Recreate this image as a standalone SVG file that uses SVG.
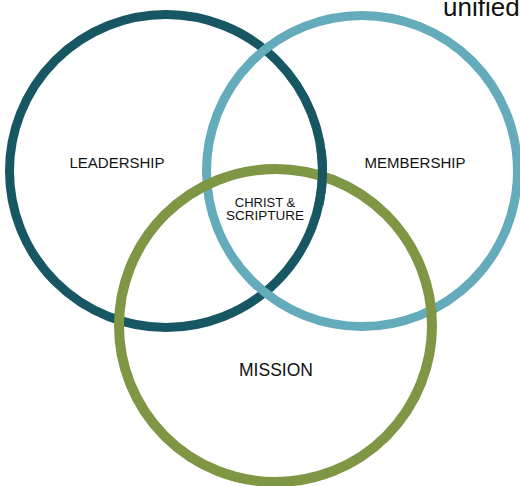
<svg xmlns="http://www.w3.org/2000/svg" width="520" height="486" viewBox="0 0 520 486">
<style>
.ring{fill:none}
.lead{stroke:#175663;stroke-width:9}
.memb{stroke:#64abbb;stroke-width:9}
.miss{stroke:#7f9645;stroke-width:10}
.lbl{font-family:"Liberation Sans",Arial,sans-serif;fill:#111;text-anchor:middle}
</style>
<rect width="520" height="486" fill="#fff"/>
<text x="443" y="16" font-family="Liberation Sans, Arial, sans-serif" font-size="26" fill="#111">unified</text>
<g id="leadership">
<circle class="ring lead" cx="166" cy="171" r="156.5"/>
<text class="lbl" x="117" y="168" font-size="15">LEADERSHIP</text>
</g>
<g id="membership">
<circle class="ring memb" cx="362" cy="171" r="155.5"/>
<text class="lbl" x="415" y="168" font-size="15">MEMBERSHIP</text>
</g>
<g id="mission">
<circle class="ring miss" cx="275.5" cy="325.5" r="156.5"/>
<text class="lbl" x="276" y="376" font-size="17.5">MISSION</text>
</g>
<g id="overlap">
<path class="ring lead" d="M321.1 150 A156.5 156.5 0 0 1 318.8 205"/>
</g>
<g id="christ-scripture">
<text class="lbl" x="265" y="207" font-size="13">CHRIST &amp;</text>
<text class="lbl" x="265" y="220" font-size="13.5">SCRIPTURE</text>
</g>
<g id="connectors"/>
</svg>
